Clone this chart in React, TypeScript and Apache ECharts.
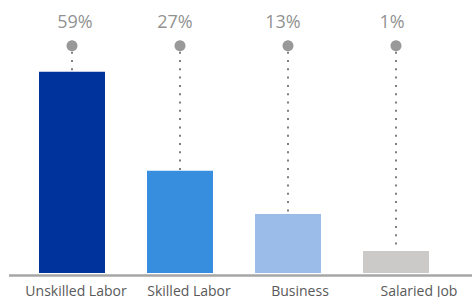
import React, { useEffect, useRef } from "react";
import * as echarts from "echarts";

const categories = ["Unskilled Labor", "Skilled Labor", "Business", "Salaried Job"];
const shares = [59, 27, 13, 1];
const barValues = [88.5, 45, 26, 9.7];
const markerLevel = 100;
const barColors = ["#00339c", "#388ede", "#9bbbe8", "#cbcac8"];
const categoryLabelNudge = [4, 9, 12, 23];
const shareLabelNudge = [3, -5, -5, -4];

export default function App() {
  const ref = useRef<HTMLDivElement>(null);
  useEffect(() => {
    document.body.style.margin = "0";
    const chart = echarts.init(ref.current!, null, { renderer: "svg" });
    const font = "'Open Sans', 'Noto Sans', sans-serif";
    const rich: Record<string, any> = {};
    categoryLabelNudge.forEach((n, i) => {
      rich["c" + i] = {
        color: "#595959",
        fontSize: 14,
        fontFamily: font,
        padding: [0, 0, 0, n * 2],
      };
    });
    chart.setOption({
      animation: false,
      grid: { left: 18, right: 22, top: 45.7, bottom: 22.5 },
      xAxis: {
        type: "category",
        data: categories,
        axisLine: { show: false },
        axisTick: { show: false },
        axisLabel: {
          interval: 0,
          color: "#595959",
          fontSize: 14,
          fontFamily: font,
          margin: 10,
          formatter: (v: string, i: number) => `{c${i}|${v}}`,
          rich,
        },
      },
      yAxis: {
        type: "value",
        min: 0,
        max: markerLevel,
        show: false,
        splitLine: { show: false },
      },
      graphic: [
        {
          type: "line",
          shape: { x1: 9, y1: 275.5, x2: 472, y2: 275.5 },
          style: { stroke: "#a6a6a6", lineWidth: 2.5 },
          z: 10,
        },
      ],
      series: [
        {
          type: "bar",
          data: barValues.map((v, i) => ({ value: v, itemStyle: { color: barColors[i] } })),
          barWidth: 66,
          z: 2,
        },
        {
          type: "custom",
          data: barValues.map((v, i) => [i, v]),
          z: 3,
          renderItem: (params: any, api: any) => {
            const i = api.value(0);
            const top = api.coord([i, markerLevel]);
            const bottom = api.coord([i, api.value(1)]);
            return {
              type: "line",
              shape: { x1: top[0], y1: top[1] + 6, x2: bottom[0], y2: bottom[1] },
              style: { stroke: "#7f7f7f", lineWidth: 2, lineDash: [2, 6.3] },
            };
          },
        },
        {
          type: "scatter",
          symbol: "circle",
          symbolSize: 11,
          z: 4,
          itemStyle: { color: "#7f7f7f" },
          data: shares.map((s, i) => ({
            value: [i, markerLevel],
            label: { offset: [shareLabelNudge[i], 0] },
          })),
          label: {
            show: true,
            position: "top",
            distance: 10,
            formatter: (p: any) => shares[p.dataIndex] + "%",
            color: "#737373",
            fontSize: 18,
            fontFamily: font,
          },
        },
      ],
    });
    return () => chart.dispose();
  }, []);
  return <div ref={ref} style={{ width: 472, height: 297 }} />;
}
